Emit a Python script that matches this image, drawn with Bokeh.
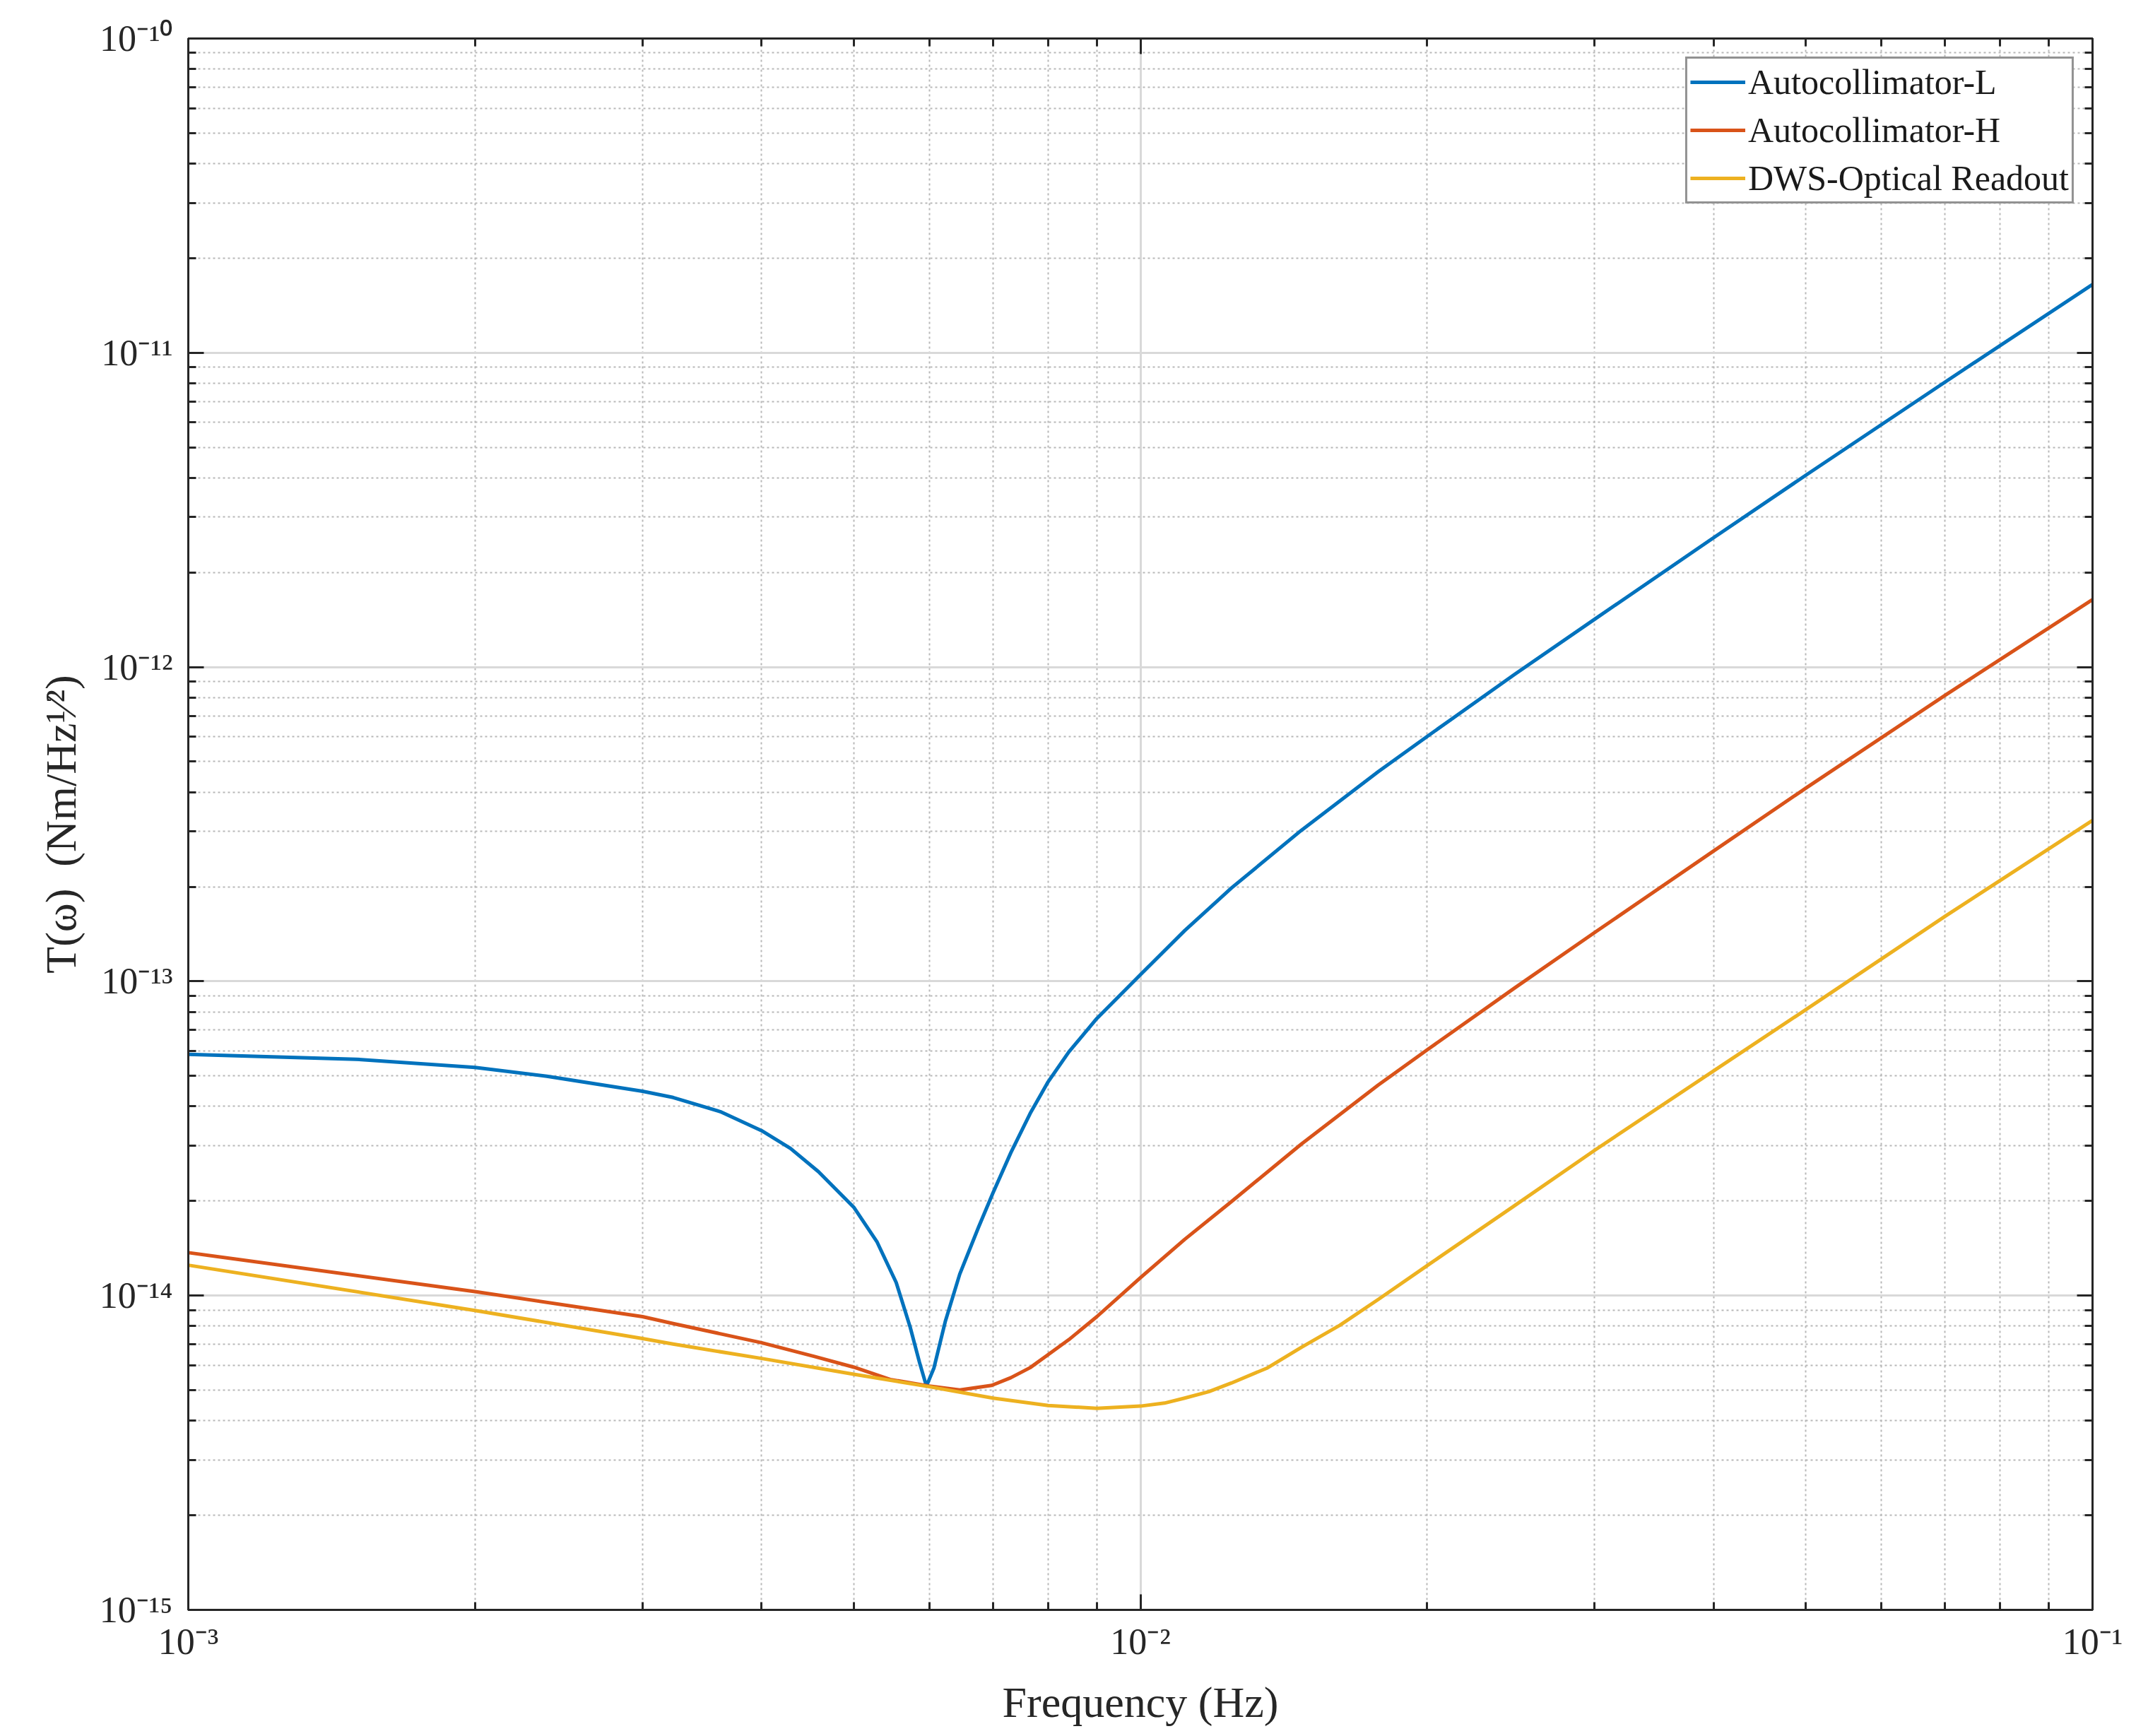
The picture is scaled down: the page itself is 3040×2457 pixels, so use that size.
from bokeh.plotting import figure
from bokeh.models import Range1d, LogAxis, FixedTicker, CustomJSTickFormatter
from bokeh.embed import file_html
from bokeh.resources import INLINE

# ---------------- data ----------------
freq_L = [1.0e-3, 1.5e-3, 2.0e-3, 2.38e-3, 3.0e-3, 3.23e-3, 3.62e-3, 4.0e-3, 4.29e-3,
          4.59e-3, 5.0e-3, 5.29e-3, 5.54e-3, 5.73e-3, 5.86e-3, 5.96e-3, 6.07e-3, 6.24e-3,
          6.46e-3, 6.76e-3, 7.0e-3, 7.31e-3, 7.66e-3, 8.0e-3, 8.41e-3, 9.0e-3, 1.0e-2,
          1.113e-2, 1.246e-2, 1.475e-2, 1.778e-2, 2.0e-2, 2.47e-2, 3.0e-2, 4.0e-2, 5.0e-2,
          7.0e-2, 1.0e-1]
torque_L = [5.86e-14, 5.65e-14, 5.32e-14, 4.99e-14, 4.47e-14, 4.27e-14, 3.85e-14, 3.35e-14,
            2.94e-14, 2.48e-14, 1.91e-14, 1.48e-14, 1.10e-14, 7.94e-15, 6.14e-15, 5.15e-15,
            5.89e-15, 8.30e-15, 1.17e-14, 1.65e-14, 2.12e-14, 2.85e-14, 3.80e-14, 4.79e-14,
            5.96e-14, 7.62e-14, 1.05e-13, 1.45e-13, 1.98e-13, 3.02e-13, 4.65e-13, 6.01e-13,
            9.46e-13, 1.42e-12, 2.58e-12, 4.08e-12, 8.07e-12, 1.65e-11]

freq_H = [1.0e-3, 2.0e-3, 3.0e-3, 3.23e-3, 4.0e-3, 4.54e-3, 5.0e-3, 5.46e-3, 5.98e-3,
          6.46e-3, 6.98e-3, 7.31e-3, 7.66e-3, 8.0e-3, 8.41e-3, 9.0e-3, 1.0e-2, 1.113e-2,
          1.246e-2, 1.475e-2, 1.778e-2, 2.0e-2, 2.47e-2, 3.0e-2, 4.0e-2, 5.0e-2, 7.0e-2,
          1.0e-1]
torque_H = [1.37e-14, 1.03e-14, 8.57e-15, 8.15e-15, 7.08e-15, 6.41e-15, 5.92e-15, 5.41e-15,
            5.16e-15, 5.01e-15, 5.18e-15, 5.48e-15, 5.90e-15, 6.49e-15, 7.24e-15, 8.57e-15,
            1.14e-14, 1.51e-14, 1.99e-14, 3.03e-14, 4.68e-14, 6.05e-14, 9.51e-14, 1.43e-13,
            2.60e-13, 4.12e-13, 8.13e-13, 1.64e-12]

freq_D = [1.0e-3, 2.0e-3, 3.0e-3, 3.23e-3, 4.0e-3, 5.0e-3, 6.0e-3, 7.0e-3, 8.0e-3,
          9.0e-3, 1.0e-2, 1.06e-2, 1.113e-2, 1.18e-2, 1.246e-2, 1.36e-2, 1.475e-2, 1.62e-2,
          1.778e-2, 2.0e-2, 2.47e-2, 3.0e-2, 4.0e-2, 5.0e-2, 7.0e-2, 1.0e-1]
torque_D = [1.25e-14, 8.97e-15, 7.30e-15, 7.01e-15, 6.31e-15, 5.62e-15, 5.13e-15, 4.72e-15,
            4.47e-15, 4.38e-15, 4.45e-15, 4.55e-15, 4.72e-15, 4.95e-15, 5.27e-15, 5.89e-15,
            6.84e-15, 8.05e-15, 9.73e-15, 1.245e-14, 1.93e-14, 2.90e-14, 5.19e-14, 8.13e-14,
            1.61e-13, 3.25e-13]

series_names = ["Autocollimator-L", "Autocollimator-H", "DWS-Optical Readout"]
series_colors = ["#0072BD", "#D95319", "#EDB120"]

x_exps = [-3, -2, -1]
x_labels = ["10⁻³", "10⁻²", "10⁻¹"]
y_exps = [-15, -14, -13, -12, -11, -10]
y_labels = ["10⁻¹⁵", "10⁻¹⁴", "10⁻¹³", "10⁻¹²", "10⁻¹¹", "10⁻¹⁰"]

x_title = "Frequency (Hz)"
y_title = "T(ω)\u00a0\u00a0(Nm/Hz¹⁄²)"

# ---------------- figure ----------------
FONT = "Liberation Serif"
AX_COLOR = "#262626"

p = figure(width=3030, height=2445, x_axis_type="log", y_axis_type="log",
           x_range=Range1d(10.0 ** x_exps[0], 10.0 ** x_exps[-1]),
           y_range=Range1d(10.0 ** y_exps[0], 10.0 ** y_exps[-1]),
           output_backend="svg", toolbar_location=None,
           min_border_left=266, min_border_right=69, min_border_top=54,
           min_border_bottom=167,
           background_fill_color="white", border_fill_color="white",
           outline_line_color=AX_COLOR, outline_line_width=3)


def make_ticker(exps):
    major = [10.0 ** e for e in exps]
    minor = [m * 10.0 ** e for e in exps[:-1] for m in range(2, 10)]
    return FixedTicker(ticks=major, minor_ticks=minor)


def make_formatter(exps, labels):
    return CustomJSTickFormatter(
        args=dict(exps=exps, labels=labels),
        code="const e = Math.round(Math.log10(tick)); const i = exps.indexOf(e); "
             "return i >= 0 ? labels[i] : '';")


blank = CustomJSTickFormatter(code="return '';")


def style_axis(ax):
    ax.axis_line_color = AX_COLOR
    ax.axis_line_width = 3
    ax.major_tick_line_color = AX_COLOR
    ax.major_tick_line_width = 3
    ax.minor_tick_line_color = AX_COLOR
    ax.minor_tick_line_width = 3
    ax.major_tick_in = 22
    ax.major_tick_out = 0
    ax.minor_tick_in = 11
    ax.minor_tick_out = 0
    ax.major_label_text_font = FONT
    ax.major_label_text_font_size = "52px"
    ax.major_label_text_color = AX_COLOR
    ax.axis_label_text_font = FONT
    ax.axis_label_text_font_size = "62px"
    ax.axis_label_text_font_style = "normal"
    ax.axis_label_text_color = AX_COLOR


p.xaxis.ticker = make_ticker(x_exps)
p.yaxis.ticker = make_ticker(y_exps)
p.xaxis.formatter = make_formatter(x_exps, x_labels)
p.yaxis.formatter = make_formatter(y_exps, y_labels)
p.xaxis.axis_label = x_title
p.yaxis.axis_label = y_title
for ax in p.xaxis:
    style_axis(ax)
    ax.major_label_standoff = 16
    ax.axis_label_standoff = 20
for ax in p.yaxis:
    style_axis(ax)
    ax.major_label_standoff = 22
    ax.axis_label_standoff = 18

# top / right axes (box with inward ticks)
top = LogAxis(ticker=make_ticker(x_exps), formatter=blank)
right = LogAxis(ticker=make_ticker(y_exps), formatter=blank)
for ax in (top, right):
    style_axis(ax)
    ax.major_label_text_font_size = "1px"
    ax.major_label_standoff = 0
p.add_layout(top, "above")
p.add_layout(right, "right")

# grids
for g in (p.xgrid, p.ygrid):
    g.grid_line_color = "#d9d9d9"
    g.grid_line_width = 3
    g.minor_grid_line_color = "#b8b8b8"
    g.minor_grid_line_width = 2
    g.minor_grid_line_dash = "3 4"

# lines
all_x = [freq_L, freq_H, freq_D]
all_y = [torque_L, torque_H, torque_D]
for xs, ys, name, col in zip(all_x, all_y, series_names, series_colors):
    p.line(xs, ys, line_color=col, line_width=5, legend_label=name,
           line_join="round")

lg = p.legend[0]
lg.location = "top_right"
lg.margin = 26
lg.padding = 4
lg.spacing = 10
lg.label_text_font = FONT
lg.label_text_font_size = "50px"
lg.label_text_color = "#1a1a1a"
lg.glyph_width = 78
lg.glyph_height = 54
lg.label_height = 54
lg.label_standoff = 4
lg.border_line_color = AX_COLOR
lg.border_line_width = 3
lg.background_fill_color = "white"
lg.background_fill_alpha = 1.0

open("out.html", "w").write(file_html(p, INLINE))
